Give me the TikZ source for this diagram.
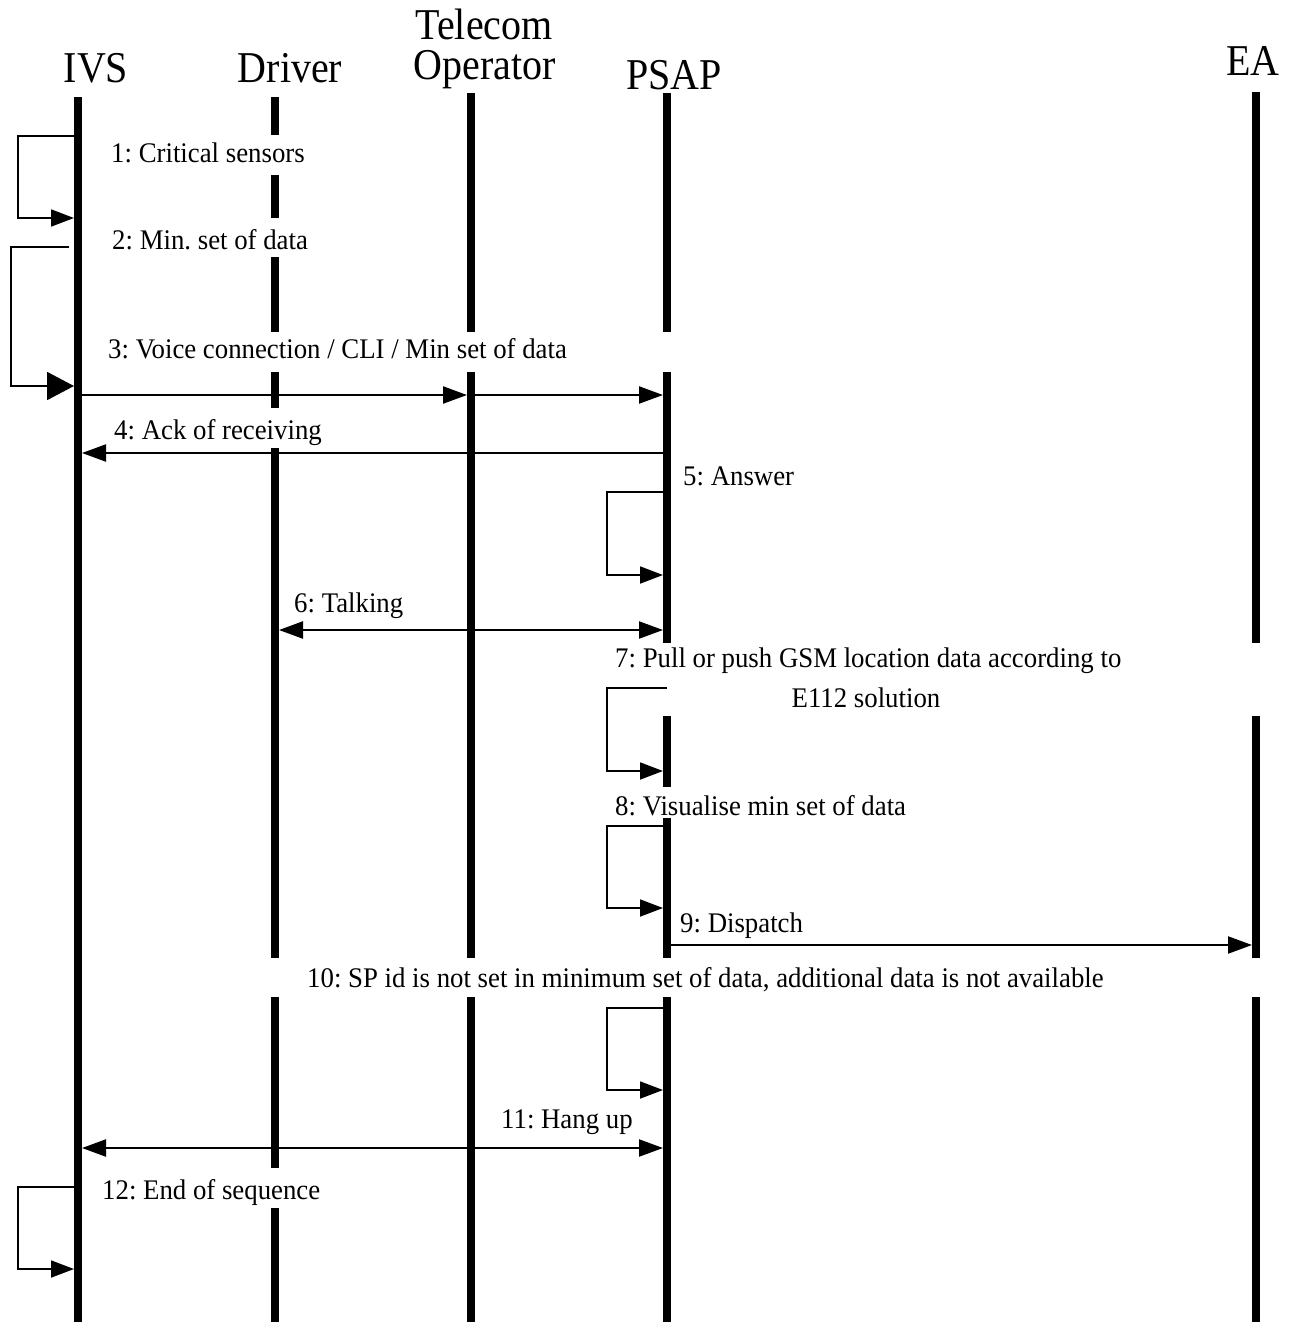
\documentclass[tikz,border=0pt]{standalone}
\usepackage{fontspec}
\setmainfont{Liberation Serif}
\usetikzlibrary{arrows.meta}
\frenchspacing
\newcommand{\lblfont}{\fontsize{26.8}{30}\selectfont}
\newcommand{\hdrfont}{\fontsize{40}{44}\selectfont}
\newcommand{\vs}[1]{\scalebox{1}[1.06]{#1}}
\newcommand{\hs}[1]{\scalebox{1}[1.1]{#1}}
\begin{document}
\begin{tikzpicture}[x=1pt,y=-1pt,
  life/.style={line width=7.5pt},
  msg/.style={line width=2.2pt,-{Triangle[length=24pt,width=17pt]}},
  msgboth/.style={line width=2.2pt,{Triangle[length=24pt,width=17pt]}-{Triangle[length=24pt,width=17pt]}},
  selfloop/.style={line width=1.8pt,-{Triangle[length=23pt,width=17pt]}},
  bigloop/.style={line width=1.8pt,-{Triangle[length=27pt,width=28pt]}},
  lbl/.style={anchor=base west,inner sep=0pt,font=\lblfont},
  hdr/.style={anchor=base,inner sep=0pt,font=\hdrfont}]
\useasboundingbox (0,0) rectangle (1291,1322);
% lifeline x positions
\coordinate (IVSx) at (78,0);
\coordinate (DRVx) at (275,0);
\coordinate (TELx) at (471,0);
\coordinate (PSAPx) at (667,0);
\coordinate (EAx) at (1256,0);
% headers
\node[hdr] (ivs) at (96,82) {\hs{IVS}};
\node[hdr] (drv) at (290,82) {\hs{Driver}};
\node[hdr] (tel1) at (484,40) {\hs{Telecom}};
\node[hdr] (tel2) at (485,80) {\hs{Operator}};
\node[hdr] (psap) at (674,89) {\hs{PSAP}};
\node[hdr] (ea) at (1253,75) {\hs{EA}};
% lifelines
\draw[life] (IVSx |- 0,97) -- (IVSx |- 0,1322);
\draw[life] (DRVx |- 0,97) -- (DRVx |- 0,135);
\draw[life] (DRVx |- 0,175) -- (DRVx |- 0,218);
\draw[life] (DRVx |- 0,257) -- (DRVx |- 0,332);
\draw[life] (DRVx |- 0,372) -- (DRVx |- 0,408);
\draw[life] (DRVx |- 0,448) -- (DRVx |- 0,958);
\draw[life] (DRVx |- 0,997) -- (DRVx |- 0,1168);
\draw[life] (DRVx |- 0,1208) -- (DRVx |- 0,1322);
\draw[life] (TELx |- 0,93) -- (TELx |- 0,332);
\draw[life] (TELx |- 0,372) -- (TELx |- 0,958);
\draw[life] (TELx |- 0,997) -- (TELx |- 0,1322);
\draw[life] (PSAPx |- 0,93) -- (PSAPx |- 0,332);
\draw[life] (PSAPx |- 0,372) -- (PSAPx |- 0,643);
\draw[life] (PSAPx |- 0,716) -- (PSAPx |- 0,787);
\draw[life] (PSAPx |- 0,818) -- (PSAPx |- 0,958);
\draw[life] (PSAPx |- 0,997) -- (PSAPx |- 0,1322);
\draw[life] (EAx |- 0,92) -- (EAx |- 0,643);
\draw[life] (EAx |- 0,716) -- (EAx |- 0,958);
\draw[life] (EAx |- 0,997) -- (EAx |- 0,1322);
% 1
\draw[selfloop] (IVSx |- 0,136) -- (18,136) -- (18,218) -- ([xshift=-4pt]IVSx |- 0,218);
\node[lbl] (l1) at (111,162) {\vs{1: Critical sensors}};
% 2
\draw[bigloop] (69,247) -- (11,247) -- (11,386) -- ([xshift=-4pt]IVSx |- 0,386);
\node[lbl] (l2) at (112,249) {\vs{2: Min. set of data}};
% 3
\node[lbl] (l3) at (108,358) {\vs{3: Voice connection / CLI / Min set of data}};
\draw[msg] ([xshift=4pt]IVSx |- 0,395) -- ([xshift=-4pt]TELx |- 0,395);
\draw[msg] ([xshift=4pt]TELx |- 0,395) -- ([xshift=-4pt]PSAPx |- 0,395);
% 4
\node[lbl] (l4) at (114,439) {\vs{4: Ack of receiving}};
\draw[msg] ([xshift=-4pt]PSAPx |- 0,453) -- ([xshift=4pt]IVSx |- 0,453);
% 5
\node[lbl] (l5) at (683,485) {\vs{5: Answer}};
\draw[selfloop] (PSAPx |- 0,492) -- (607,492) -- (607,575) -- ([xshift=-4pt]PSAPx |- 0,575);
% 6
\node[lbl] (l6) at (294,612) {\vs{6: Talking}};
\draw[msgboth] ([xshift=4pt]DRVx |- 0,630) -- ([xshift=-4pt]PSAPx |- 0,630);
% 7
\node[lbl] (l7) at (615,667) {\vs{7: Pull or push GSM location data according to}};
\node[lbl,anchor=base] (l7b) at (866,707) {\vs{E112 solution}};
\draw[selfloop] (PSAPx |- 0,688) -- (607,688) -- (607,771) -- ([xshift=-4pt]PSAPx |- 0,771);
% 8
\node[lbl] (l8) at (615,815) {\vs{8: Visualise min set of data}};
\draw[selfloop] (PSAPx |- 0,826) -- (607,826) -- (607,908) -- ([xshift=-4pt]PSAPx |- 0,908);
% 9
\node[lbl] (l9) at (680,932) {\vs{9: Dispatch}};
\draw[msg] ([xshift=4pt]PSAPx |- 0,945) -- ([xshift=-4pt]EAx |- 0,945);
% 10
\node[lbl] (l10) at (307,987) {\vs{10: SP id is not set in minimum set of data, additional data is not available}};
\draw[selfloop] (PSAPx |- 0,1008) -- (607,1008) -- (607,1090) -- ([xshift=-4pt]PSAPx |- 0,1090);
% 11
\node[lbl] (l11) at (501,1128) {\vs{11: Hang up}};
\draw[msgboth] ([xshift=4pt]IVSx |- 0,1148) -- ([xshift=-4pt]PSAPx |- 0,1148);
% 12
\node[lbl] (l12) at (102,1199) {\vs{12: End of sequence}};
\draw[selfloop] (IVSx |- 0,1187) -- (18,1187) -- (18,1269) -- ([xshift=-4pt]IVSx |- 0,1269);
\end{tikzpicture}
\end{document}
